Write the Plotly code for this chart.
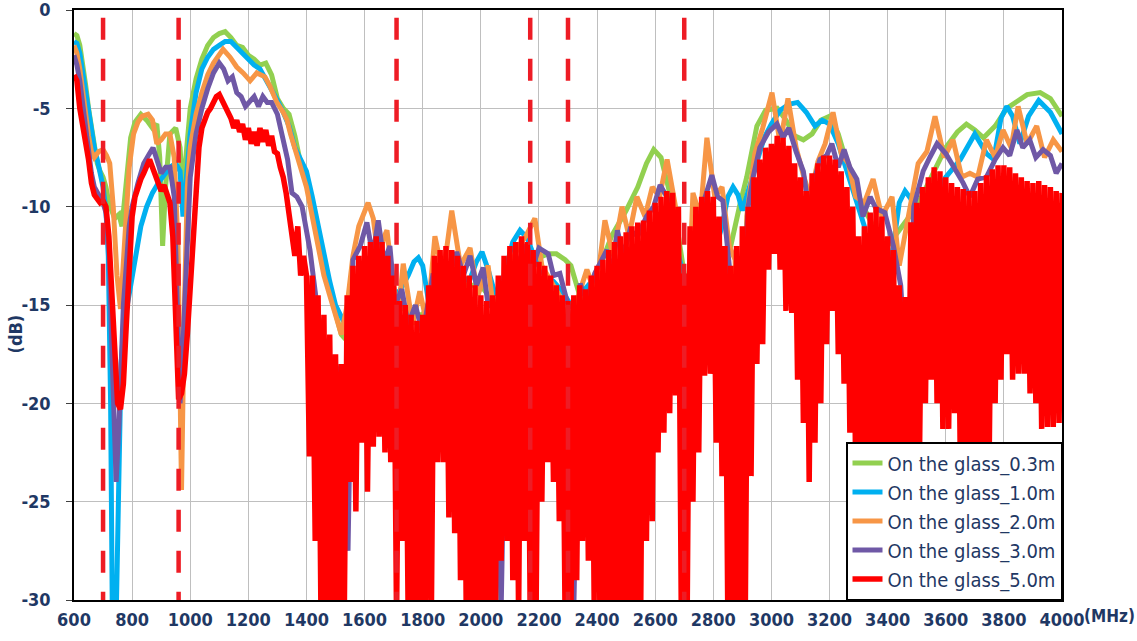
import plotly.graph_objects as go

# ---------------- data ----------------
freq_ticks = [600, 800, 1000, 1200, 1400, 1600, 1800, 2000, 2200, 2400, 2600,
              2800, 3000, 3200, 3400, 3600, 3800, 4000]
db_ticks = [0, -5, -10, -15, -20, -25, -30]
band_edges = [700, 960, 1710, 2170, 2300, 2700]

names = ["On the glass_0.3m", "On the glass_1.0m", "On the glass_2.0m",
         "On the glass_3.0m", "On the glass_5.0m"]
colors = ["#92D050", "#00B0F0", "#F79646", "#6F58A6", "#FF0000"]

green_f = [600, 610, 620, 630, 640, 650, 660, 670, 680, 690, 700, 710, 720, 740, 755, 765, 780, 795,
           810, 830, 850, 870, 885, 895, 905, 915, 930, 950, 965, 975, 985, 1000, 1020, 1040, 1060,
           1080, 1100, 1120, 1140, 1160, 1180, 1200, 1220, 1240, 1260, 1280, 1300, 1320, 1340, 1360,
           1380, 1400, 1420, 1440, 1460, 1480, 1500, 1520, 1550, 1600, 1650, 1700, 1750, 1800, 1850,
           1900, 1950, 2000, 2050, 2100, 2150, 2180, 2200, 2230, 2260, 2290, 2310, 2340, 2360, 2400,
           2450, 2500, 2540, 2570, 2595, 2620, 2650, 2680, 2710, 2740, 2780, 2820, 2860, 2890, 2915,
           2950, 2980, 3020, 3050, 3080, 3110, 3140, 3170, 3200, 3230, 3260, 3300, 3350, 3400, 3450,
           3500, 3550, 3600, 3640, 3671, 3700, 3730, 3770, 3810, 3850, 3880, 3925, 3960, 4000]
green_db = [-1.2, -1.3, -1.8, -2.7, -3.8, -5.0, -6.0, -7.0, -7.8, -8.2, -8.5, -9.0, -9.8, -10.6, -10.4,
            -11.0, -8.5, -6.5, -5.7, -5.3, -5.6, -6.0, -5.8, -7.5, -12.0, -9.0, -6.3, -6.0, -7.0, -9.5,
            -7.5, -5.0, -3.5, -2.5, -1.8, -1.4, -1.2, -1.1, -1.4, -1.8, -1.9, -2.3, -2.5, -2.8, -2.7,
            -3.3, -4.5, -5.0, -5.3, -6.4, -7.8, -8.8, -10.2, -11.8, -13.2, -14.3, -15.5, -16.5, -17.0,
            -15.0, -14.0, -14.5, -15.5, -15.5, -14.0, -13.5, -14.0, -14.0, -15.0, -13.5, -13.0, -12.9,
            -12.6, -12.4, -12.4, -12.7, -13.0, -14.5, -15.0, -13.5, -11.5, -10.2, -9.0, -7.8, -7.1,
            -7.5, -9.3, -11.5, -14.4, -15.0, -14.0, -13.0, -12.0, -10.0, -8.5, -5.9, -5.1, -5.0, -5.6,
            -6.4, -6.6, -6.3, -5.6, -5.4, -6.3, -7.8, -9.5, -11.0, -12.0, -11.0, -10.0, -8.5, -7.0,
            -6.2, -5.8, -6.1, -6.5, -5.9, -5.0, -4.6, -4.3, -4.2, -4.5, -5.4]

blue_f = [600, 610, 620, 630, 640, 650, 660, 670, 680, 690, 700, 710, 718, 726, 732, 745, 752, 762, 772,
          790, 810, 830, 850, 870, 890, 910, 930, 950, 965, 975, 985, 1000, 1020, 1040, 1060, 1080,
          1100, 1120, 1140, 1160, 1180, 1200, 1220, 1240, 1260, 1280, 1300, 1320, 1340, 1360, 1380,
          1400, 1420, 1440, 1460, 1480, 1500, 1520, 1540, 1560, 1580, 1600, 1615, 1640, 1680, 1720,
          1750, 1770, 1785, 1800, 1820, 1850, 1890, 1930, 1960, 1985, 2004, 2025, 2050, 2080, 2110,
          2135, 2160, 2190, 2220, 2250, 2280, 2310, 2350, 2400, 2435, 2444, 2452, 2500, 2550, 2600,
          2650, 2690, 2720, 2760, 2800, 2830, 2850, 2868, 2885, 2900, 2925, 2950, 2975, 3000, 3030,
          3060, 3090, 3120, 3150, 3175, 3200, 3230, 3260, 3290, 3320, 3328, 3336, 3360, 3390, 3415,
          3440, 3460, 3480, 3500, 3530, 3560, 3600, 3650, 3700, 3740, 3765, 3790, 3810, 3830, 3855,
          3885, 3920, 3960, 4000]
blue_db = [-1.6, -1.7, -2.2, -3.2, -4.4, -5.4, -6.3, -7.0, -7.6, -8.2, -9.0, -10.2, -12.5, -20.0, -31.0,
           -31.0, -24.0, -18.0, -16.0, -14.5, -12.8, -11.0, -10.0, -9.3, -8.8, -8.4, -8.0, -7.8, -8.2,
           -10.5, -9.0, -6.3, -4.2, -3.0, -2.4, -2.0, -1.8, -1.6, -1.6, -1.9, -2.2, -2.5, -2.8, -3.0,
           -3.5, -4.1, -4.6, -5.2, -5.9, -7.0, -7.6, -8.2, -9.5, -11.0, -12.5, -13.8, -15.0, -15.6,
           -16.2, -17.0, -18.0, -19.5, -17.5, -15.5, -14.5, -14.3, -13.5, -12.8, -12.6, -13.0, -14.8,
           -15.5, -14.0, -13.5, -13.8, -12.8, -12.3, -13.2, -14.5, -13.5, -11.8, -11.2, -11.6, -12.8,
           -13.5, -13.8, -14.3, -15.0, -14.3, -13.5, -14.5, -31.0, -15.0, -13.0, -12.0, -11.5, -11.0,
           -13.0, -15.0, -13.5, -12.5, -11.0, -9.5, -9.0, -9.4, -10.2, -9.0, -7.6, -6.5, -5.8, -5.1,
           -4.8, -4.7, -5.2, -5.9, -5.6, -5.8, -6.8, -8.3, -9.6, -11.0, -24.0, -11.8, -12.5, -13.5,
           -12.5, -9.8, -9.2, -9.6, -10.6, -10.8, -9.5, -8.5, -7.6, -6.3, -7.3, -7.6, -5.5, -4.9, -5.4,
           -6.8, -5.4, -4.6, -5.2, -6.3]

orange_f = [600, 610, 620, 630, 640, 650, 660, 670, 685, 700, 712, 723, 735, 748, 760, 775, 790, 805,
            820, 835, 855, 870, 885, 900, 915, 930, 945, 958, 970, 980, 990, 1000, 1020, 1040, 1060,
            1080, 1100, 1113, 1137, 1160, 1182, 1206, 1229, 1257, 1275, 1298, 1320, 1333, 1345, 1370,
            1400, 1420, 1440, 1460, 1480, 1500, 1520, 1540, 1560, 1580, 1600, 1612, 1630, 1650, 1665,
            1677, 1695, 1715, 1733, 1750, 1765, 1790, 1815, 1842, 1870, 1900, 1930, 1963, 1990, 2025,
            2050, 2062, 2070, 2076, 2100, 2130, 2155, 2186, 2210, 2240, 2270, 2300, 2330, 2365, 2395,
            2427, 2455, 2486, 2510, 2537, 2565, 2590, 2615, 2641, 2670, 2690, 2705, 2715, 2730, 2755,
            2778, 2805, 2830, 2855, 2875, 2895, 2915, 2943, 2970, 3002, 3030, 3057, 3085, 3110, 3133,
            3160, 3185, 3212, 3240, 3265, 3290, 3320, 3350, 3380, 3415, 3440, 3465, 3505, 3535, 3563,
            3595, 3625, 3655, 3683, 3710, 3740, 3770, 3797, 3825, 3849, 3880, 3913, 3940, 3970, 4000]
orange_db = [-1.8, -2.2, -3.0, -4.2, -5.4, -6.4, -7.2, -7.5, -7.2, -7.1, -7.4, -7.8, -10.0, -13.5,
             -15.2, -12.0, -8.0, -6.3, -5.7, -5.4, -5.3, -5.6, -6.8, -6.6, -6.3, -6.3, -7.5, -12.0,
             -24.4, -15.0, -9.0, -7.0, -5.3, -4.2, -3.3, -2.7, -2.2, -2.0, -2.4, -2.9, -3.2, -3.6,
             -3.2, -3.4, -3.9, -4.7, -5.2, -5.6, -6.3, -7.5, -9.0, -10.5, -12.0, -13.5, -14.5, -15.5,
             -16.5, -15.0, -12.5, -11.0, -10.2, -9.8, -10.6, -13.0, -11.6, -11.2, -13.5, -15.5, -12.9,
             -14.5, -16.0, -14.3, -16.0, -11.5, -13.5, -10.2, -13.0, -12.1, -14.5, -13.0, -16.0, -30.5,
             -18.0, -15.0, -13.0, -12.0, -11.5, -10.6, -13.0, -13.8, -14.5, -16.0, -14.8, -13.2, -14.5,
             -10.7, -12.5, -10.0, -11.5, -9.5, -10.5, -9.0, -9.5, -7.6, -10.0, -16.0, -25.0, -15.0,
             -9.3, -10.5, -6.5, -9.5, -9.0, -12.0, -12.7, -22.0, -10.5, -7.3, -6.0, -4.2, -6.8, -4.5,
             -7.0, -8.4, -9.5, -7.7, -6.8, -5.2, -7.3, -7.8, -9.5, -9.8, -8.6, -10.5, -9.5, -13.0,
             -11.0, -7.8, -7.2, -5.4, -7.5, -6.6, -8.5, -8.3, -8.5, -6.6, -7.5, -6.1, -7.0, -4.9, -6.8,
             -5.9, -7.5, -6.6, -7.2]

purple_f = [600, 610, 620, 630, 640, 650, 660, 670, 680, 690, 700, 710, 720, 730, 745, 755, 770, 790,
            800, 820, 840, 860, 872, 885, 900, 915, 930, 945, 955, 965, 975, 990, 1000, 1020, 1040,
            1060, 1080, 1100, 1115, 1130, 1145, 1160, 1175, 1190, 1205, 1220, 1235, 1250, 1265, 1280,
            1300, 1320, 1335, 1350, 1367, 1385, 1412, 1440, 1470, 1500, 1520, 1543, 1560, 1585, 1608,
            1628, 1647, 1667, 1687, 1705, 1728, 1750, 1775, 1800, 1836, 1860, 1890, 1917, 1940, 1963,
            1985, 2008, 2025, 2042, 2070, 2090, 2120, 2140, 2159, 2180, 2200, 2232, 2250, 2272, 2300,
            2320, 2342, 2352, 2370, 2392, 2434, 2450, 2470, 2490, 2513, 2540, 2570, 2595, 2617, 2640,
            2660, 2680, 2700, 2720, 2743, 2770, 2795, 2815, 2833, 2855, 2880, 2900, 2920, 2937, 2960,
            2990, 3019, 3040, 3060, 3085, 3110, 3130, 3150, 3167, 3190, 3208, 3230, 3250, 3270, 3294,
            3315, 3340, 3360, 3390, 3420, 3445, 3467, 3490, 3522, 3545, 3570, 3600, 3630, 3660, 3683,
            3710, 3740, 3770, 3797, 3820, 3845, 3865, 3889, 3910, 3935, 3960, 3980, 4000]
purple_db = [-2.3, -2.8, -3.6, -4.8, -6.0, -7.2, -8.3, -9.0, -9.3, -9.5, -9.8, -10.3, -12.0, -17.0,
             -24.0, -21.0, -15.0, -11.0, -10.0, -8.8, -7.8, -7.3, -7.0, -7.6, -8.3, -8.0, -8.0, -9.5,
             -14.0, -20.0, -17.0, -11.0, -8.5, -6.3, -5.0, -4.0, -3.2, -2.7, -3.0, -3.6, -3.4, -4.2,
             -4.4, -4.9, -4.6, -4.4, -4.9, -4.4, -4.7, -4.7, -5.3, -6.6, -7.6, -9.3, -9.5, -10.0, -12.2,
             -15.5, -17.3, -18.0, -19.0, -27.5, -12.7, -12.0, -10.8, -12.5, -10.7, -12.8, -12.0, -15.0,
             -14.2, -16.0, -15.0, -16.5, -13.4, -15.0, -13.5, -12.3, -13.5, -12.5, -14.0, -13.1, -15.0,
             -15.1, -30.5, -14.0, -13.0, -12.5, -11.9, -13.0, -12.1, -12.4, -13.5, -13.4, -15.0, -30.5,
             -13.9, -14.4, -14.5, -13.4, -12.2, -13.5, -11.2, -12.5, -11.2, -11.5, -10.5, -10.0, -8.9,
             -9.5, -10.5, -13.0, -25.0, -13.0, -10.9, -9.5, -8.4, -9.5, -9.7, -13.0, -29.0, -15.0,
             -10.0, -8.5, -7.0, -6.2, -5.8, -6.5, -6.0, -7.2, -8.2, -10.3, -8.5, -7.6, -7.4, -6.8, -8.0,
             -7.1, -8.0, -8.6, -10.5, -9.5, -10.1, -10.3, -12.0, -14.0, -19.3, -10.0, -8.2, -7.5, -6.8,
             -7.3, -8.0, -8.8, -9.5, -8.6, -8.5, -7.6, -7.0, -7.4, -6.1, -7.0, -6.6, -7.5, -7.1, -7.4,
             -8.3, -7.8]

# 5.0 m trace: smooth part read point by point, then peak / trough pairs every 10 MHz
red_f_low = [600, 610, 620, 630, 640, 650, 660, 670, 680, 690, 700, 710, 720, 730, 740, 750, 760, 770,
             780, 790, 800, 810, 820, 830, 840, 850, 860, 870, 880, 890, 900, 910, 920, 930, 940, 950,
             960, 970, 980, 990, 1000, 1010, 1020, 1030, 1040, 1050, 1060, 1070, 1080, 1090, 1100,
             1110, 1120, 1130, 1140, 1150, 1160, 1170, 1180, 1190, 1200, 1210, 1220, 1230, 1240, 1250,
             1260, 1270, 1280, 1290, 1300, 1310, 1320, 1330, 1340, 1350, 1360, 1370, 1380, 1390]
red_db_low = [-3.3, -3.6, -5.0, -5.8, -6.5, -7.6, -8.8, -9.4, -9.6, -9.8, -9.7, -10.0, -11.5, -14.0,
              -17.0, -20.0, -20.3, -19.0, -16.0, -12.5, -10.5, -9.5, -9.0, -8.6, -8.3, -8.0, -7.6, -8.0,
              -8.4, -8.8, -9.2, -8.9, -9.3, -9.8, -11.5, -15.5, -19.8, -19.5, -18.5, -16.5, -14.0, -11.0,
              -8.5, -7.0, -6.0, -5.5, -5.2, -5.0, -4.6, -4.4, -4.3, -4.6, -5.0, -5.3, -5.5, -6.0, -5.6,
              -6.2, -5.8, -6.6, -6.0, -6.8, -6.2, -6.9, -6.0, -6.7, -6.1, -6.9, -6.4, -7.2, -7.3, -8.0,
              -8.5, -9.3, -10.5, -11.5, -12.5, -11.0, -13.5, -12.5]
red_f_high = list(range(1400, 4001, 10))
red_db_high = [
    -13.5, -22.7, -13.5, -27.0, -14.5, -31, -15.5, -31, -16.5, -31,      # 1400
    -17.5, -31, -18.0, -31, -14.5, -24.0, -13.0, -25.5, -12.5, -22.0,    # 1500
    -12.0, -24.5, -11.8, -22.2, -11.5, -21.7, -11.8, -22.5, -12.5, -23.0,  # 1600
    -13.5, -31, -14.8, -27.0, -15.0, -31, -15.5, -31, -15.8, -31,        # 1700
    -15.5, -31, -14.0, -30.5, -12.5, -23.0, -12.2, -23.0, -12.0, -25.8,  # 1800
    -12.2, -26.6, -12.5, -29.0, -13.0, -31, -13.5, -31, -14.0, -31,      # 1900
    -14.5, -31, -14.8, -31, -14.5, -31, -13.5, -28.0, -12.5, -27.0,      # 2000
    -12.0, -29.0, -11.8, -31, -11.5, -27.0, -11.8, -31, -12.2, -31,      # 2100
    -12.8, -25.0, -13.0, -23.0, -13.5, -24.0, -14.0, -26.0, -14.5, -31,  # 2200
    -14.8, -31, -14.5, -29.0, -14.0, -27.0, -14.2, -28.0, -13.5, -30.0,  # 2300
    -13.0, -31, -12.7, -31, -12.2, -31, -11.8, -31, -11.5, -31,          # 2400
    -11.3, -31, -11.0, -31, -10.8, -31, -10.7, -27.0, -10.2, -26.0,      # 2500
    -9.8, -22.5, -9.5, -21.5, -9.2, -20.5, -9.3, -19.6, -10.0, -31,      # 2600
    -13.4, -31, -11.0, -25.0, -10.0, -22.5, -9.5, -18.6, -9.2, -18.5,    # 2700
    -9.5, -22.0, -10.5, -23.7, -12.0, -31, -13.0, -31, -12.0, -31,       # 2800
    -11.0, -31, -10.0, -23.7, -8.5, -18.0, -7.6, -17.0, -7.0, -13.2,     # 2900
    -6.8, -12.4, -6.4, -13.2, -6.5, -15.3, -6.9, -15.4, -7.8, -18.8,     # 3000
    -8.5, -21.0, -9.2, -24.0, -8.3, -22.0, -7.8, -20.0, -7.4, -17.0,     # 3100
    -7.4, -15.3, -7.6, -17.5, -8.2, -19.0, -9.0, -21.5, -10.0, -23.5,    # 3200
    -11.5, -25.0, -11.0, -25.0, -10.3, -25.5, -10.0, -25.0, -10.5, -25.5,  # 3300
    -11.5, -26.0, -12.2, -26.0, -14.0, -25.0, -14.6, -24.0, -10.8, -23.0,  # 3400
    -9.8, -22.2, -9.0, -20.0, -8.5, -18.8, -8.0, -20.0, -8.2, -21.3,     # 3500
    -8.5, -21.3, -8.8, -20.5, -9.0, -23.0, -9.1, -25.0, -9.2, -25.0,     # 3600
    -9.2, -25.0, -8.8, -24.0, -8.4, -22.0, -8.1, -20.0, -7.9, -18.8,     # 3700
    -7.9, -17.5, -8.0, -18.8, -8.3, -18.5, -8.5, -18.5, -8.7, -19.5,     # 3800
    -8.8, -20.0, -8.7, -21.3, -8.9, -21.2, -9.0, -21.2, -9.2, -21.0,     # 3900
    -9.3]                                                                # 4000
red_f = red_f_low + red_f_high
red_db = red_db_low + red_db_high

series = [(green_f, green_db), (blue_f, blue_db), (orange_f, orange_db),
          (purple_f, purple_db), (red_f, red_db)]
widths = [5, 5, 5, 5, 5.5]

# ---------------- figure ----------------
NAVY = "#1F3864"
FONT = "DejaVu Sans Condensed, Liberation Sans, Arial, sans-serif"

fig = go.Figure()
for (fx, fy), nm, col, w in zip(series, names, colors, widths):
    fig.add_trace(go.Scatter(x=fx, y=fy, mode="lines", name=nm,
                             line=dict(color=col, width=w)))

for f in band_edges:
    fig.add_shape(type="line", xref="x", yref="y", x0=f, x1=f, y0=-0.4, y1=-30,
                  line=dict(color="#EE1C25", width=4.5, dash="22px,19px"), layer="above")

fig.update_layout(
    template="none",
    width=1137, height=641,
    margin=dict(l=74, r=75, t=10, b=41, autoexpand=False),
    paper_bgcolor="white", plot_bgcolor="white",
    showlegend=True,
    legend=dict(x=1, y=0, xanchor="right", yanchor="bottom",
                bgcolor="white", bordercolor="black", borderwidth=1.5,
                font=dict(family=FONT, size=20, color=NAVY),
                tracegroupgap=0, itemwidth=30),
    annotations=[
        dict(text="(MHz)", xref="paper", yref="paper", x=1, y=0, xanchor="left",
             yanchor="middle", xshift=20, yshift=-16, showarrow=False,
             font=dict(family=FONT, size=17, color=NAVY, weight="bold")),
        dict(text="(dB)", xref="paper", yref="paper", x=0, y=0.45, xanchor="center",
             yanchor="middle", xshift=-59, textangle=-90, showarrow=False,
             font=dict(family=FONT, size=18, color=NAVY, weight="bold")),
    ],
)
fig.update_xaxes(range=[600, 4000], tickvals=freq_ticks, ticktext=[str(v) for v in freq_ticks],
                 automargin=False,
                 showgrid=True, gridcolor="#BFBFBF", gridwidth=1, zeroline=False,
                 showline=True, linecolor="black", linewidth=1.5, mirror=True,
                 ticks="", ticklabelstandoff=3,
                 tickfont=dict(family=FONT, size=18, color=NAVY, weight="bold"))
fig.update_yaxes(range=[-30, 0], tickvals=db_ticks, ticktext=[str(v) for v in db_ticks],
                 automargin=False, ticklabeloverflow="allow",
                 showgrid=True, gridcolor="#BFBFBF", gridwidth=1, zeroline=False,
                 showline=True, linecolor="black", linewidth=1.5, mirror=True,
                 ticks="outside", ticklen=6, tickcolor="#404040", ticklabelstandoff=12,
                 tickfont=dict(family=FONT, size=18, color=NAVY, weight="bold"))

fig.write_html("out.html", config={"displayModeBar": False},
               post_script="document.body.style.margin='0px';")
